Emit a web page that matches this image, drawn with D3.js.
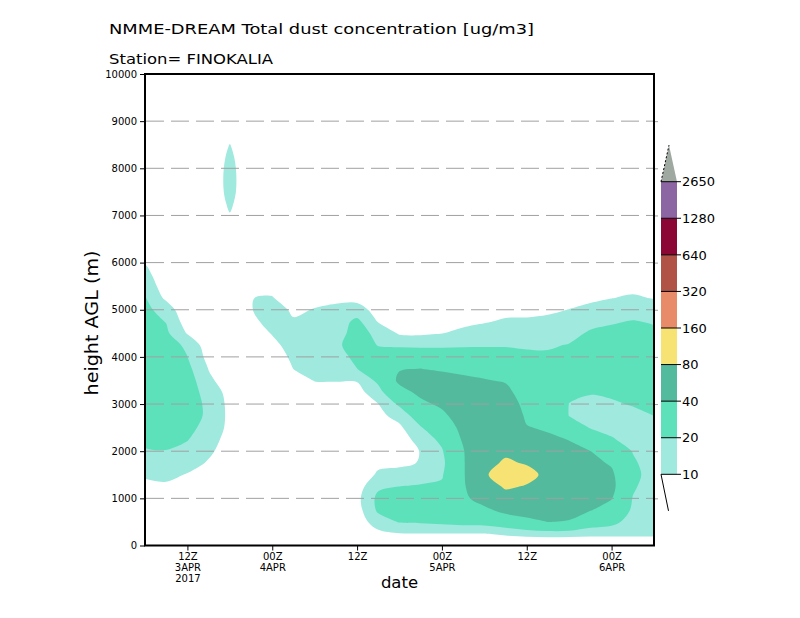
<!DOCTYPE html>
<html>
<head>
<meta charset="utf-8">
<script src="https://cdn.jsdelivr.net/npm/d3@7"></script>
<style>
  body { margin: 0; background: #fff; }
  svg { display: block; font-family: "DejaVu Sans", sans-serif; }
</style>
</head>
<body>
<svg width="800" height="618"></svg>
<script>
// hours since 2017-04-03 06Z
var hours = [0, 3, 6, 9, 12, 15, 18, 21, 24, 27, 30, 33, 36, 39, 42, 45, 48, 51, 54, 57, 60, 63, 66, 69, 72];

// model heights AGL (m)
var heights = [0, 250, 500, 750, 1000, 1250, 1500, 1750, 2000, 2250, 2500, 2750, 3000, 3250, 3500, 3750,
    4000, 4250, 4500, 4750, 5000, 5250, 5500, 5750, 6000, 6250, 6500, 6750, 7000, 7250, 7500, 7750,
    8000, 8250, 8500, 8750, 9000, 9250, 9500, 9750, 10000];

// dust concentration (ug/m3), one vertical profile per time step (bottom -> top)
var dust = [
    [0.5,1,1.5,2,4.9,7.9,11.1,15.1,19.1,22.3,25.2,28.2,31.1,34,32.3,30.7,29,27.4,25.7,24,22.4,20.7,17.6,13.4,9.1,6.5,4,2,1,0.5,0,0,0,0,0,0,0,0,0,0,0],
    [0.5,1.2,1.8,2.5,5.5,8.6,12,15.8,19.6,23.2,26.8,30.4,34,32,30,27.9,25.9,23.9,21.9,19.6,16,7.9,4,2.5,1,0.5,0,0,0,0,0,0,0,0,0,0,0,0,0,0,0],
    [0.3,1.2,2.1,3.1,4,6.7,9.5,13,16.8,20.5,24,27.5,31,28.3,25.5,22.8,20.1,18.3,9.3,5,1.5,1,0.5,0.2,0,0,0,0,0,0,0,0,0,0,0,0,0,0,0,0,0],
    [0.2,0.9,1.6,2.3,3,5.1,7.2,9.3,11.3,13.2,15.1,17,15.2,13.4,11.6,9.7,6.8,4,3,2,1,0.5,0,0,0,0,0,0,0,0,0,0,0,0,0,0,0,0,0,0,0],
    [0.2,0.5,1,1.5,2,3,4,5,6.5,7.2,8.1,8,8.3,8.1,5.9,4,3,2,1.5,1,1,0.5,0,0,0,0,0,4,9.3,12,14,14.5,14,12.5,10.3,6,2,0.5,0,0,0],
    [0.2,0.4,0.7,1,1.5,2,2.5,3,3.5,4,4.5,4.5,4.5,4,3.5,3,3,4,5.5,7.5,9.6,9.9,6,3,1.5,0.5,0,0,0,0,0,0,0,0,0,0,0,0,0,0,0],
    [0.2,0.3,0.5,0.8,1,1.3,1.6,2,2.3,2.5,2.6,2.6,2.5,2.3,2,3.5,5,7.7,10.5,13.6,14.1,10.5,7.2,4,2.5,1,0.5,0,0,0,0,0,0,0,0,0,0,0,0,0,0],
    [0.2,0.3,0.5,0.7,0.9,1.1,1.3,1.5,1.7,1.9,2.1,2.3,2.5,5.1,7.6,10.1,11.9,13.6,12.6,10.9,8.5,5,3.5,2,1.2,0.5,0,0,0,0,0,0,0,0,0,0,0,0,0,0,0],
    [0.2,0.3,0.5,0.7,0.9,1.1,1.3,1.5,1.8,2,2.2,2.5,5.1,7.7,10.2,11.8,13.4,15,13.5,12,10.4,7.5,4,2.7,1.5,0.7,0,0,0,0,0,0,0,0,0,0,0,0,0,0,0],
    [0.2,0.3,0.5,0.8,1,1.2,1.4,1.6,1.9,2.1,2.3,2.5,5.1,7.7,10.3,12.7,15.1,17.5,15.4,14.5,11.3,8.7,5,3.2,1.5,0.7,0,0,0,0,0,0,0,0,0,0,0,0,0,0,0],
    [0.5,2,4.5,6,7.3,5.5,3.5,2.5,2,2,2.2,2.5,3,6.6,10.6,19.9,23,26,24.5,22.5,14,7.1,3.5,2,1,0.5,0,0,0,0,0,0,0,0,0,0,0,0,0,0,0],
    [2,7.5,15.1,21.8,22.6,18.3,11.5,7.8,5,5,5,7.4,9.8,15.7,22.6,31,25,19.5,17,9.3,6.2,3,1.7,0.5,0,0,0,0,0,0,0,0,0,0,0,0,0,0,0,0,0],
    [0.5,9.5,20.6,25.2,24.4,20.1,13.7,7.9,5,5,8.2,13.4,22,33.8,43.5,39,28.7,18.1,8.9,5.5,2,1,0,0,0,0,0,0,0,0,0,0,0,0,0,0,0,0,0,0,0],
    [0.5,9.7,21.3,26.1,25.4,21.1,15.5,10.6,10.4,14,19.1,26.8,36,44.1,48.4,40.1,28.9,17.4,8.6,5.3,2,1,0,0,0,0,0,0,0,0,0,0,0,0,0,0,0,0,0,0,0],
    [0.5,9.7,22.5,28.8,26.3,21.8,18.9,17,18.9,22.6,29.1,35.7,43.3,53,47.3,37.6,27.6,17.9,9.8,6.4,3,1.7,0.5,0,0,0,0,0,0,0,0,0,0,0,0,0,0,0,0,0,0],
    [0.5,9.7,24,33,36,37,37,37.5,38.5,42,45,50,55,53,44.1,35.3,26.6,18.5,12.3,7.7,4,2.5,1,0.5,0,0,0,0,0,0,0,0,0,0,0,0,0,0,0,0,0],
    [0.5,9.7,24.5,35.6,48.2,61.6,75,70.7,66.3,62,58.7,55.3,52,46.6,41.1,33.8,25.9,18.8,13.9,9.3,6.2,3,1.7,0.5,0,0,0,0,0,0,0,0,0,0,0,0,0,0,0,0,0],
    [0.5,11.7,27.9,45.6,65.7,84.5,100,84,75.1,68.5,62,57,52,45.2,38.4,31.7,25,19,15.1,11.1,7.5,4,2.5,1,0.5,0,0,0,0,0,0,0,0,0,0,0,0,0,0,0,0],
    [0.5,13.3,33.9,50.1,63.8,77.6,90,77.7,65.5,53.2,41,36.8,33.4,30,27.3,24.6,21.9,18.9,15.1,11.3,7.6,4,2.5,1,0.5,0,0,0,0,0,0,0,0,0,0,0,0,0,0,0,0],
    [0.5,14.1,40.1,52.5,65,68.5,72,62.4,52.8,43.2,37.8,34.5,31.3,28,25.8,23.6,21.5,18.9,15.4,12,8.5,5,3.2,1.5,0.7,0,0,0,0,0,0,0,0,0,0,0,0,0,0,0,0],
    [0.5,13.6,38.8,45.9,51.9,58,53.4,48.9,44.3,39.5,28.8,19.7,19.8,22,24.5,27,23.8,20.5,17.1,13.6,10.2,7.1,4,2.5,1,0.5,0,0,0,0,0,0,0,0,0,0,0,0,0,0,0],
    [0.5,13.1,26.8,40.7,44.9,49.2,47.2,43.8,40.3,29.4,19.3,15.7,17.6,20.7,23.5,26.3,26.9,24,21.2,17.3,12.6,8.1,4,2.5,1,0.5,0,0,0,0,0,0,0,0,0,0,0,0,0,0,0],
    [0.5,12.8,23.3,32.7,40.8,44.3,42.5,38.5,29.8,21,16.9,14.8,18.7,21.8,24.6,27.3,27.9,25.1,22.3,19.1,14.4,9.8,6.4,3,1.7,0.5,0.2,0,0,0,0,0,0,0,0,0,0,0,0,0,0],
    [0.5,13,15.3,18,19.5,21.7,24,21.8,19.5,16.3,13,17.1,20.8,23.4,25.9,28.5,28.9,26.1,23.3,20.5,16,11.2,7.4,4,2.5,1,0.5,0,0,0,0,0,0,0,0,0,0,0,0,0,0],
    [0.5,12.5,13,13.3,13.5,13.8,14,14.3,14.7,15,17.6,20.1,22.2,24.3,26.3,27.6,25.6,23.7,21.7,19.2,14.2,9.5,6.8,4,2.5,1,0.5,0,0,0,0,0,0,0,0,0,0,0,0,0,0]
];

var levels = [10, 20, 40, 80, 160, 320, 640, 1280, 2650];
var colors = ["#a0e9de", "#5ce1bb", "#53ba9e", "#f7e274", "#e88b69", "#b05245", "#8c0635", "#8c66a2", "#a0a8a2"];

var yTicks = [0, 1000, 2000, 3000, 4000, 5000, 6000, 7000, 8000, 9000, 10000];
var xTicks = [6, 18, 30, 42, 54, 66];
var xTickLabels = [["12Z", "3APR", "2017"], ["00Z", "4APR"], ["12Z"], ["00Z", "5APR"], ["12Z"], ["00Z", "6APR"]];

var svg = d3.select("svg"),
    margin = { top: 74, right: 146, bottom: 72.5, left: 145 },
    width = +svg.attr("width") - margin.left - margin.right,
    height = +svg.attr("height") - margin.top - margin.bottom,
    g = svg.append("g").attr("transform", "translate(" + margin.left + "," + margin.top + ")");

var x = d3.scaleLinear().domain([hours[0], hours[hours.length - 1]]).range([0, width]);
var y = d3.scaleLinear().domain([0, 10000]).range([height, 0]);

// flat grid for d3.contours, time varies fastest
var nx = hours.length, ny = heights.length;
var values = [];
for (var j = 0; j < ny; j++) {
    for (var i = 0; i < nx; i++) values.push(dust[i][j]);
}
var contours = d3.contours().size([nx, ny]).thresholds(levels)(values);

// grid point i sits at i + 0.5 in contour coordinates
var gx = d3.scaleLinear().domain([0.5, nx - 0.5]).range([hours[0], hours[nx - 1]]);
var gy = d3.scaleLinear().domain([0.5, ny - 0.5]).range([heights[0], heights[ny - 1]]);

var ring = d3.line()
    .x(function (p) { return x(gx(p[0])); })
    .y(function (p) { return y(gy(p[1])); })
    .curve(d3.curveCatmullRomClosed.alpha(0.5));

g.append("clipPath").attr("id", "plotclip")
  .append("rect").attr("width", width).attr("height", height);

g.append("g")
    .attr("clip-path", "url(#plotclip)")
  .selectAll("path")
  .data(contours)
  .enter().append("path")
    .attr("d", function (c) {
        return c.coordinates.map(function (poly) {
            return poly.map(function (r) { return ring(r.slice(0, -1)); }).join("");
        }).join("");
    })
    .attr("fill", function (c, i) { return colors[i]; })
    .attr("fill-rule", "evenodd");

// dashed grid
g.append("g")
  .selectAll("line")
  .data(yTicks.slice(1, -1))
  .enter().append("line")
    .attr("x1", 1).attr("x2", width)
    .attr("y1", function (d) { return y(d); })
    .attr("y2", function (d) { return y(d); })
    .attr("stroke", "#a0a0a0")
    .attr("stroke-dasharray", "18,7");

// right side small ticks
var right = g.append("g")
    .attr("transform", "translate(" + width + ",0)")
    .call(d3.axisRight(y).tickValues(yTicks.slice(1, -1)).tickSize(4).tickFormat(""));
right.select(".domain").remove();
right.selectAll("line").attr("stroke", "#a0a0a0");

var yAxis = g.append("g")
    .call(d3.axisLeft(y).tickValues(yTicks).tickSize(5).tickPadding(3).tickFormat(d3.format("d")));
yAxis.select(".domain").remove();
yAxis.selectAll("text").attr("font-size", 10).attr("font-family", "DejaVu Sans").attr("fill", "#000");

var xAxis = g.append("g")
    .attr("transform", "translate(0," + height + ")")
    .call(d3.axisBottom(x).tickValues(xTicks).tickSize(5).tickFormat(""));
xAxis.select(".domain").remove();
xAxis.selectAll(".tick").each(function (d, i) {
    var t = d3.select(this).append("text")
        .attr("fill", "#000")
        .attr("font-size", 10)
        .attr("font-family", "DejaVu Sans")
        .attr("text-anchor", "middle");
    xTickLabels[i].forEach(function (s, k) {
        t.append("tspan").attr("x", 0).attr("y", 14 + k * 11).text(s);
    });
});

// frame
g.append("rect")
    .attr("width", width).attr("height", height)
    .attr("fill", "none").attr("stroke", "#000").attr("stroke-width", 2);

// titles
svg.append("text")
    .attr("x", 109).attr("y", 34)
    .attr("font-size", 14.5)
    .attr("textLength", 425).attr("lengthAdjust", "spacingAndGlyphs")
    .text("NMME-DREAM Total dust concentration [ug/m3]");

svg.append("text")
    .attr("x", 109).attr("y", 64)
    .attr("font-size", 14.5)
    .attr("textLength", 164).attr("lengthAdjust", "spacingAndGlyphs")
    .text("Station= FINOKALIA");

svg.append("text")
    .attr("transform", "translate(98,323) rotate(-90)")
    .attr("text-anchor", "middle")
    .attr("font-size", 18)
    .attr("textLength", 145).attr("lengthAdjust", "spacingAndGlyphs")
    .text("height AGL (m)");

svg.append("text")
    .attr("x", margin.left + width / 2).attr("y", 588)
    .attr("text-anchor", "middle")
    .attr("font-size", 16.5)
    .text("date");

// colour bar
var lx = 661, lw = 16;
var ly = d3.scaleLinear().domain([0, levels.length - 1]).range([474.3, 181.7]);
var legend = svg.append("g");

legend.selectAll("rect")
  .data(levels.slice(0, -1))
  .enter().append("rect")
    .attr("x", lx)
    .attr("y", function (d, i) { return ly(i + 1); })
    .attr("width", lw)
    .attr("height", function (d, i) { return ly(i) - ly(i + 1); })
    .attr("fill", function (d, i) { return colors[i]; });

var barTop = ly(levels.length - 1), step = ly(0) - ly(1);
legend.append("path")
    .attr("d", "M" + lx + "," + barTop + "L" + (lx + lw) + "," + barTop + "L" + (lx + lw / 2) + "," + (barTop - step) + "Z")
    .attr("fill", colors[colors.length - 1]);
legend.append("line")
    .attr("x1", lx).attr("y1", barTop).attr("x2", lx + lw / 2).attr("y2", barTop - step)
    .attr("stroke", "#000").attr("stroke-dasharray", "2,2");
legend.append("line")
    .attr("x1", lx).attr("y1", ly(0)).attr("x2", lx + lw / 2 - 0.5).attr("y2", ly(0) + step)
    .attr("stroke", "#000");

legend.selectAll(".lev")
  .data(levels)
  .enter().append("line")
    .attr("class", "lev")
    .attr("x1", lx).attr("x2", lx + lw + 4)
    .attr("y1", function (d, i) { return ly(i); })
    .attr("y2", function (d, i) { return ly(i); })
    .attr("stroke", "#000");

legend.selectAll("text")
  .data(levels)
  .enter().append("text")
    .attr("x", lx + lw + 5)
    .attr("y", function (d, i) { return ly(i); })
    .attr("dy", "0.36em")
    .attr("font-size", 13)
    .text(function (d) { return d; });
</script>
</body>
</html>
